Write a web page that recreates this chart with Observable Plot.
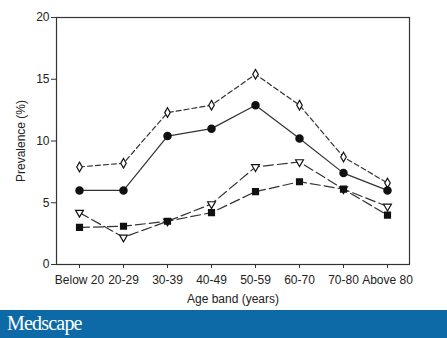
<!DOCTYPE html>
<html><head><meta charset="utf-8">
<script src="https://cdn.jsdelivr.net/npm/d3@7"></script>
<script src="https://cdn.jsdelivr.net/npm/@observablehq/plot@0.6"></script>
<style>
body{margin:0;background:#fff;width:447px;height:338px;overflow:hidden;font-family:"Liberation Sans",Arial,sans-serif}
#banner{height:28px;background:#0e6aa7;color:#fff;font-family:"Liberation Serif","DejaVu Serif",serif;font-size:20px;letter-spacing:-0.8px;padding-left:7px;line-height:27px}
</style></head><body><div id="chart"></div><div id="banner">Medscape</div>
<script>
const ageBands = ["Below 20", "20-29", "30-39", "40-49", "50-59", "60-70", "70-80", "Above 80"];
const seriesDiamond = [7.9, 8.2, 12.3, 12.9, 15.4, 12.9, 8.7, 6.6];   // open diamonds, short dash
const seriesCircle = [6.0, 6.0, 10.4, 11.0, 12.9, 10.2, 7.4, 6.0];    // filled circles, solid
const seriesTriangle = [4.2, 2.2, 3.5, 4.9, 7.9, 8.3, 6.1, 4.7];      // open down-triangles, long dash
const seriesSquare = [3.0, 3.1, 3.5, 4.2, 5.9, 6.7, 6.1, 4.0];        // filled squares, long dash
const yTicks = [0, 5, 10, 15, 20];

const toRows = (vals) => ageBands.map((band, i) => ({band, value: vals[i]}));
const rowsD = toRows(seriesDiamond), rowsC = toRows(seriesCircle),
      rowsT = toRows(seriesTriangle), rowsS = toRows(seriesSquare);
const ink = "#333";

const chart = Plot.plot({
  width: 447, height: 310,
  marginLeft: 56, marginRight: 38, marginTop: 17, marginBottom: 46,
  style: {fontFamily: "Liberation Sans, Arial, sans-serif", fontSize: "12px", color: "#222", background: "#fff"},
  x: {type: "point", domain: ageBands, padding: 0.5},
  y: {domain: [0, 20]},
  marks: [
    Plot.frame({stroke: ink, strokeWidth: 1.2}),
    Plot.axisY({ticks: yTicks, tickSize: 5, tickPadding: 2, label: "Prevalence (%)", labelAnchor: "center", labelArrow: "none", labelOffset: 40, stroke: ink}),
    Plot.axisX({tickSize: 4, tickPadding: 7, label: "Age band (years)", labelAnchor: "center", labelArrow: "none", labelOffset: 38, stroke: ink}),
    Plot.line(rowsD, {x: "band", y: "value", stroke: ink, strokeWidth: 1.2, strokeDasharray: "5,3"}),
    Plot.line(rowsC, {x: "band", y: "value", stroke: ink, strokeWidth: 1.2}),
    Plot.line(rowsT, {x: "band", y: "value", stroke: ink, strokeWidth: 1.2, strokeDasharray: "10,4"}),
    Plot.line(rowsS, {x: "band", y: "value", stroke: ink, strokeWidth: 1.2, strokeDasharray: "10,4"}),
    Plot.dot(rowsD, {x: "band", y: "value", symbol: "diamond", r: 2.9, fill: "#fff", stroke: "#111", strokeWidth: 1.2}),
    Plot.dot(rowsC, {x: "band", y: "value", symbol: "circle", r: 3.5, fill: "#111", stroke: "#111"}),
    Plot.dot(rowsT, {x: "band", y: "value", symbol: "triangle", rotate: 180, r: 2.9, fill: "#fff", stroke: "#111", strokeWidth: 1.2}),
    Plot.dot(rowsS, {x: "band", y: "value", symbol: "square", r: 3.2, fill: "#111", stroke: "#111"})
  ]
});
document.getElementById("chart").append(chart);
</script></body></html>
